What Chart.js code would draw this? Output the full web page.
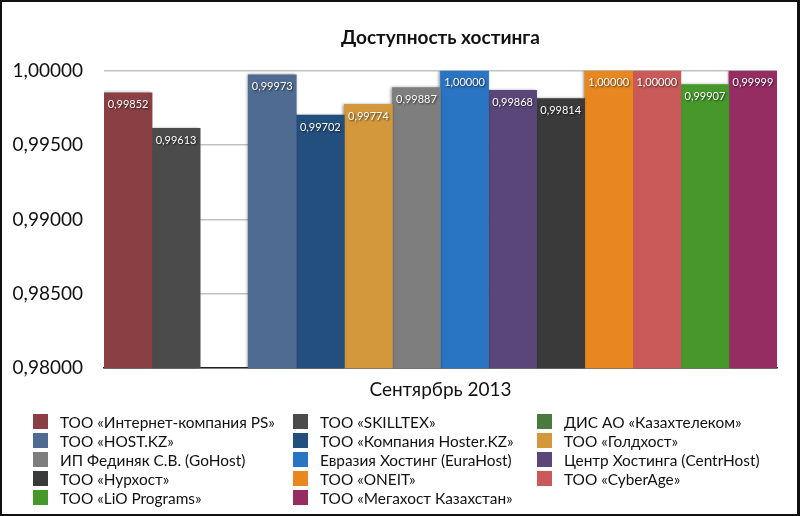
<!DOCTYPE html>
<html>
<head>
<meta charset="utf-8">
<script src="https://cdn.jsdelivr.net/npm/chart.js@4"></script>
<style>
  html, body { margin: 0; padding: 0; background: #fff; }
  #wrap { position: relative; width: 800px; height: 516px; overflow: hidden; }
  #chart { position: absolute; left: 0; top: 0; }
  #frame {
    position: absolute; left: 0; top: 0; width: 800px; height: 516px;
    box-sizing: border-box; border: 2px solid #111; border-right-width: 3px;
    pointer-events: none;
  }
  #legend {
    position: absolute; left: 33px; top: 412px;
    display: grid; grid-template-columns: 260px 244px 240px;
    grid-auto-rows: 19px;
    font-family: Lato, "Open Sans", sans-serif; font-size: 15.4px; color: #111;
  }
  .item { display: flex; align-items: center; white-space: nowrap; }
  .box { width: 15px; height: 15px; margin-right: 12px; flex: none; }
</style>
</head>
<body>
<div id="wrap">
  <canvas id="chart" width="800" height="516"></canvas>
  <div id="legend"></div>
  <div id="frame"></div>
</div>
<script>
const categories = ['Сентярбрь 2013'];

const seriesNames = [
  'ТОО «Интернет-компания PS»',
  'ТОО «SKILLTEX»',
  'ДИС АО «Казахтелеком»',
  'ТОО «HOST.KZ»',
  'ТОО «Компания Hoster.KZ»',
  'ТОО «Голдхост»',
  'ИП Фединяк С.В. (GoHost)',
  'Евразия Хостинг (EuraHost)',
  'Центр Хостинга (CentrHost)',
  'ТОО «Нурхост»',
  'ТОО «ONEIT»',
  'ТОО «CyberAge»',
  'ТОО «LiO Programs»',
  'ТОО «Мегахост Казахстан»'
];

const seriesValues = [
  0.99852, 0.99613, null, 0.99973, 0.99702, 0.99774, 0.99887,
  1.00000, 0.99868, 0.99814, 1.00000, 1.00000, 0.99907, 0.99999
];

const seriesColors = [
  '#8a3f45', '#4b4b4b', '#4a7a3e', '#506b91', '#234f7f', '#d3983c', '#7e7e7e',
  '#2a74c4', '#5b4679', '#3a3a3a', '#e8871f', '#c95a59', '#46982b', '#952d62'
];

const yTicks = [0.98, 0.985, 0.99, 0.995, 1.0];

const fmt = v => v.toFixed(5).replace('.', ',');

// title centred over the plot area, value labels inside bar tops
const barLabels = {
  id: 'barLabels',
  afterLayout(chart) {
    const t = chart.titleBlock;
    if (t) {
      t.left = chart.chartArea.left;
      t.right = chart.chartArea.right;
    }
  },
  beforeDatasetsDraw(chart) {
    const ctx = chart.ctx;
    ctx.save();
    ctx.shadowColor = 'rgba(0,0,0,0.45)';
    ctx.shadowBlur = 3;
    ctx.shadowOffsetX = -1;
  },
  afterDatasetsDraw(chart) {
    const ctx = chart.ctx;
    ctx.restore();
    ctx.save();
    ctx.font = '11px Lato, "Open Sans", sans-serif';
    ctx.fillStyle = '#fff';
    ctx.textAlign = 'center';
    ctx.textBaseline = 'middle';
    ctx.shadowColor = 'rgba(0,0,0,0.7)';
    ctx.shadowBlur = 2;
    ctx.shadowOffsetX = 1;
    ctx.shadowOffsetY = 1;
    chart.data.datasets.forEach((ds, i) => {
      const v = ds.data[0];
      if (v == null) return;
      const bar = chart.getDatasetMeta(i).data[0];
      ctx.fillText(fmt(v), bar.x, bar.y + 12);
    });
    ctx.restore();
  }
};

const chart = new Chart(document.getElementById('chart'), {
  type: 'bar',
  data: {
    labels: categories,
    datasets: seriesNames.map((name, i) => ({
      label: name,
      data: [seriesValues[i]],
      backgroundColor: seriesColors[i],
      borderWidth: 0,
      categoryPercentage: 1,
      barPercentage: 1
    }))
  },
  options: {
    responsive: false,
    animation: false,
    layout: { padding: { left: 12, right: 23, top: 0, bottom: 105 } },
    plugins: {
      legend: { display: false },
      tooltip: { enabled: false },
      title: {
        display: true,
        text: 'Доступность хостинга',
        color: '#111',
        font: { family: 'Lato, "Open Sans", sans-serif', size: 19, weight: 'bold' },
        padding: { top: 26, bottom: 22 }
      }
    },
    scales: {
      x: {
        grid: { display: false, drawTicks: false },
        border: { display: true, color: '#222', width: 1.5 },
        ticks: {
          color: '#111',
          padding: 10,
          font: { family: 'Lato, "Open Sans", sans-serif', size: 19 }
        }
      },
      y: {
        min: 0.98,
        max: 1.0,
        afterBuildTicks: scale => { scale.ticks = yTicks.map(v => ({ value: v })); },
        afterFit: scale => { scale.width = 92; },
        grid: { color: '#c2c2c2', lineWidth: 1.5, drawTicks: false },
        border: { display: false },
        ticks: {
          color: '#111',
          padding: 21,
          font: { family: 'Lato, "Open Sans", sans-serif', size: 19 },
          callback: v => fmt(v)
        }
      }
    }
  },
  plugins: [barLabels]
});

const legend = document.getElementById('legend');
chart.data.datasets.forEach(ds => {
  const item = document.createElement('div');
  item.className = 'item';
  const box = document.createElement('span');
  box.className = 'box';
  box.style.background = ds.backgroundColor;
  const txt = document.createElement('span');
  txt.textContent = ds.label;
  item.appendChild(box);
  item.appendChild(txt);
  legend.appendChild(item);
});
</script>
</body>
</html>
